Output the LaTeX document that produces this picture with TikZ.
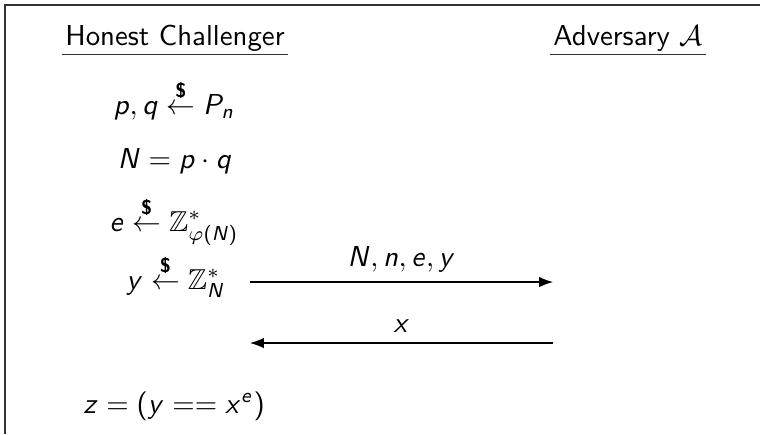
\documentclass[tikz,border=0pt]{standalone}
\usepackage{amsmath,amssymb}
\usetikzlibrary{arrows.meta}
% sans serif math letters and digits
\DeclareSymbolFont{sfletters}{OT1}{cmss}{m}{sl}
\SetSymbolFont{operators}{normal}{OT1}{cmss}{m}{n}
\newcount\lettcnt
\lettcnt=`a
\loop\mathcode\lettcnt=\numexpr"7000+\symsfletters*"100+\lettcnt\relax
  \advance\lettcnt by 1 \ifnum\lettcnt<\numexpr`z+1\relax\repeat
\lettcnt=`A
\loop\mathcode\lettcnt=\numexpr"7000+\symsfletters*"100+\lettcnt\relax
  \advance\lettcnt by 1 \ifnum\lettcnt<\numexpr`Z+1\relax\repeat
\newcommand{\rnd}{\stackrel{\textbf{\$}}{\leftarrow}}

\begin{document}
\begin{tikzpicture}[x=0.347pt,y=-0.347pt,>=Latex,font=\sffamily,
    hdr/.style={inner sep=1pt,anchor=base},
    stepline/.style={anchor=base}]
    \useasboundingbox (0,0) rectangle (760,434);
    % frame
    \coordinate (frtr) at (760,5);
    \coordinate (frtl) at (5,5);
    \coordinate (frbl) at (5,434);
    \draw[line width=0.8pt,black!80] (frtr) -- (frtl) -- (frbl);
    % parties
    \node[hdr] (chal) at (175,45) {Honest Challenger};
    \node[hdr] (adv) at (628,45) {Adversary $\mathcal{A}$};
    \draw[line width=0.5pt,black!80] (chal.south west) -- (chal.south east);
    \draw[line width=0.5pt,black!80] (adv.south west) -- (adv.south east);
    % challenger steps
    \node[stepline] (pq) at (174,114) {$p,q \rnd P_n$};
    \node[stepline] (nn) at (175,168) {$N = p\cdot q$};
    \node[stepline] (ee) at (174,231) {$e \rnd \mathbb{Z}^*_{\varphi(N)}$};
    \node[stepline] (yy) at (176,289) {$y \rnd \mathbb{Z}^*_N$};
    \node[stepline] (zz) at (174,413) {$z = (y == x^e)$};
    % messages
    \coordinate (m1s) at (250,282);
    \coordinate (m1e) at (553,282);
    \coordinate (m2s) at (553,343);
    \coordinate (m2e) at (250,343);
    \draw[->] (m1s) -- node[above]{$N,n,e,y$} (m1e);
    \draw[->] (m2s) -- node[above]{$x$} (m2e);
\end{tikzpicture}
\end{document}
